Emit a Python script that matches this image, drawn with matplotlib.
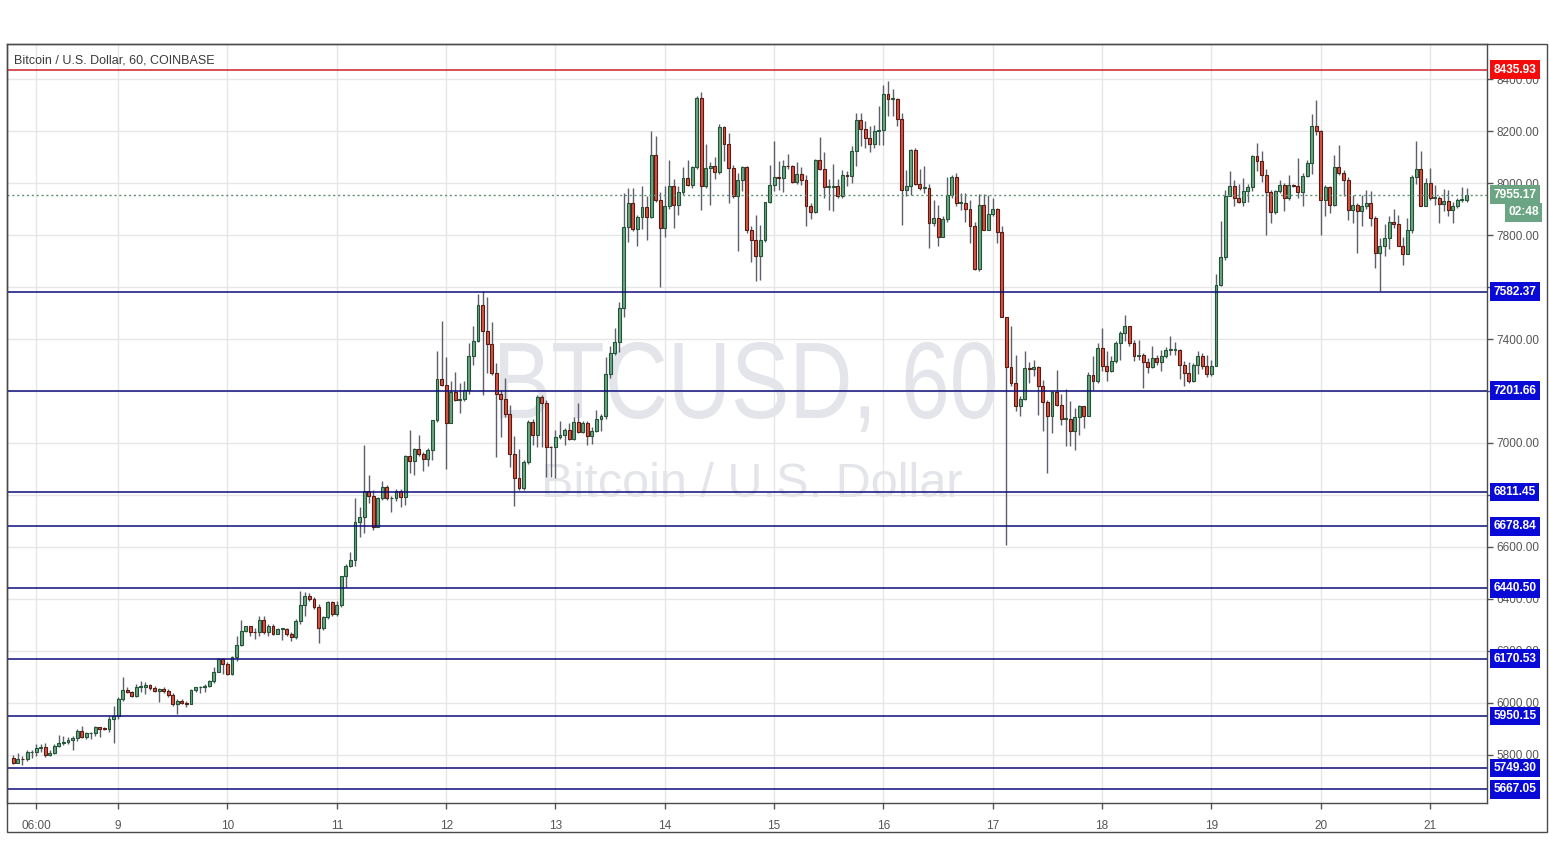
import numpy as np
import matplotlib
matplotlib.use("Agg")
import matplotlib.pyplot as plt
from matplotlib.patches import Rectangle, PathPatch
from matplotlib.textpath import TextPath
from matplotlib.font_manager import FontProperties
from matplotlib.transforms import Affine2D

# hourly candles, 8th 01:00 .. 21st 08:00 (BTC/USD, Coinbase)
first_open = 5788
close = [
    5768, 5785, 5783, 5810, 5810, 5827, 5829, 5800, 5809, 5836,
    5847, 5849, 5859, 5864, 5892, 5868, 5883, 5886, 5906, 5901,
    5899, 5937, 5949, 6015, 6051, 6041, 6028, 6063, 6063, 6069,
    6058, 6045, 6054, 6044, 6032, 5996, 6009, 5999, 5995, 6051,
    6060, 6060, 6067, 6083, 6120, 6168, 6150, 6112, 6176, 6224,
    6278, 6295, 6274, 6271, 6319, 6271, 6297, 6267, 6284, 6284,
    6265, 6254, 6314, 6378, 6413, 6400, 6370, 6290, 6329, 6387,
    6342, 6378, 6487, 6525, 6551, 6697, 6714, 6816, 6796, 6678,
    6787, 6830, 6787, 6787, 6816, 6791, 6951, 6929, 6978, 6959,
    6938, 6974, 7088, 7245, 7223, 7075, 7196, 7165, 7168, 7203,
    7333, 7393, 7529, 7432, 7381, 7268, 7188, 7171, 7111, 6956,
    6867, 6828, 6925, 7082, 7030, 7178, 7155, 6985, 6983, 7024,
    7030, 7049, 7017, 7082, 7043, 7078, 7026, 7047, 7094, 7103,
    7265, 7347, 7387, 7518, 7830, 7923, 7823, 7868, 7906, 7869,
    8109, 7936, 7827, 7910, 7987, 7917, 7964, 8019, 7994, 8062,
    8328, 7987, 8058, 8067, 8041, 8216, 8152, 8058, 7949, 8013,
    8062, 7818, 7782, 7720, 7782, 7927, 7994, 8022, 8019, 8067,
    8064, 8003, 8035, 8013, 7913, 7887, 8087, 8054, 7985, 7985,
    7987, 7949, 8032, 8028, 8122, 8244, 8208, 8173, 8152, 8199,
    8206, 8344, 8324, 8324, 8247, 7972, 7990, 8128, 7997, 7981,
    7981, 7848, 7865, 7794, 7861, 7955, 8023, 7923, 7923, 7900,
    7836, 7669, 7917, 7820, 7881, 7900, 7810, 7484, 7294, 7231,
    7141, 7169, 7288, 7286, 7292, 7221, 7156, 7103, 7195, 7147,
    7092, 7092, 7045, 7100, 7141, 7105, 7263, 7237, 7365, 7297,
    7276, 7314, 7385, 7423, 7449, 7385, 7336, 7340, 7310, 7292,
    7327, 7310, 7336, 7359, 7359, 7359, 7301, 7269, 7237, 7301,
    7336, 7295, 7265, 7297, 7609, 7715, 7951, 7990, 7942, 7929,
    7971, 7983, 8103, 8083, 8032, 7964, 7887, 7971, 7994, 7942,
    7994, 7990, 7964, 8028, 8079, 8220, 8199, 7936, 7985, 7917,
    8062, 8038, 8013, 7895, 7917, 7891, 7910, 7923, 7865, 7731,
    7759, 7788, 7849, 7842, 7759, 7727, 7821, 8023, 8054, 7913,
    8000, 7942, 7942, 7920, 7932, 7895, 7913, 7936, 7936, 7955,
]
high = [
    5801, 5806, 5794, 5817, 5817, 5842, 5842, 5845, 5817, 5842,
    5876, 5871, 5868, 5872, 5899, 5912, 5887, 5888, 5913, 5906,
    5906, 5949, 5990, 6022, 6099, 6060, 6047, 6073, 6086, 6079,
    6073, 6067, 6058, 6060, 6054, 6037, 6015, 6015, 6009, 6054,
    6063, 6065, 6073, 6088, 6137, 6173, 6173, 6156, 6182, 6259,
    6319, 6297, 6297, 6290, 6336, 6336, 6303, 6303, 6290, 6290,
    6290, 6271, 6323, 6430, 6426, 6422, 6407, 6381, 6336, 6391,
    6391, 6391, 6490, 6536, 6581, 6787, 6755, 6994, 6877, 6819,
    6794, 6852, 6839, 6796, 6822, 6822, 6955, 7049, 6981, 7032,
    6964, 6981, 7090, 7355, 7471, 7329, 7239, 7273, 7230, 7239,
    7384, 7452, 7574, 7583, 7563, 7467, 7306, 7204, 7249, 7146,
    7026, 6975, 6934, 7088, 7091, 7184, 7184, 7165, 6988, 7049,
    7085, 7056, 7075, 7101, 7152, 7085, 7085, 7060, 7126, 7111,
    7329, 7373, 7441, 7544, 7961, 7981, 7981, 7878, 7987, 7949,
    8199, 8180, 7964, 7987, 8087, 8015, 7987, 8062, 8090, 8067,
    8334, 8349, 8152, 8080, 8100, 8229, 8218, 8193, 8071, 8039,
    8067, 8067, 7833, 7878, 7839, 7929, 8071, 8161, 8083, 8090,
    8113, 8071, 8080, 8062, 8032, 7923, 8092, 8177, 8118, 8015,
    8075, 8015, 8049, 8045, 8144, 8270, 8270, 8238, 8218, 8225,
    8295, 8379, 8392, 8360, 8328, 8270, 8051, 8131, 8135, 8054,
    8067, 7997, 7933, 7917, 7874, 8023, 8032, 8039, 7961, 7961,
    7936, 7852, 7959, 7959, 7955, 7942, 7904, 7836, 7486, 7449,
    7340, 7180, 7353, 7310, 7321, 7295, 7244, 7167, 7199, 7282,
    7190, 7208, 7160, 7135, 7147, 7138, 7272, 7333, 7385, 7442,
    7353, 7333, 7391, 7429, 7494, 7451, 7397, 7395, 7346, 7327,
    7372, 7340, 7359, 7369, 7413, 7387, 7362, 7314, 7310, 7308,
    7353, 7346, 7340, 7321, 7651, 7853, 7974, 8045, 8013, 7997,
    8019, 7997, 8109, 8156, 8122, 8054, 7974, 7974, 8010, 8000,
    8032, 7997, 8096, 8038, 8090, 8267, 8318, 8205, 7994, 7990,
    8109, 8147, 8051, 8023, 7955, 7923, 7955, 7972, 7968, 7874,
    7788, 7844, 7874, 7900, 7878, 7792, 7865, 8032, 8160, 8122,
    8019, 8058, 7994, 7949, 7977, 7974, 7929, 7942, 7985, 7981,
]
low = [
    5765, 5776, 5762, 5778, 5788, 5796, 5810, 5791, 5797, 5804,
    5829, 5840, 5842, 5820, 5855, 5865, 5862, 5862, 5874, 5868,
    5894, 5887, 5845, 5938, 6009, 6037, 6024, 6024, 6041, 6035,
    6050, 6041, 6003, 6037, 6024, 5990, 5958, 5994, 5983, 5994,
    6041, 6037, 6041, 6060, 6078, 6118, 6112, 6109, 6109, 6163,
    6220, 6272, 6259, 6245, 6258, 6265, 6258, 6262, 6267, 6241,
    6258, 6239, 6245, 6303, 6336, 6394, 6361, 6232, 6280, 6323,
    6336, 6336, 6368, 6445, 6523, 6525, 6639, 6652, 6770, 6667,
    6675, 6781, 6781, 6736, 6778, 6755, 6761, 6884, 6877, 6951,
    6894, 6910, 6935, 7080, 7219, 6899, 7075, 7161, 7116, 7161,
    7187, 7299, 7387, 7184, 7268, 7261, 6947, 7024, 7101, 6908,
    6757, 6821, 6821, 6921, 6992, 6983, 6985, 6870, 6870, 6867,
    7017, 6992, 7011, 7011, 7037, 7037, 6992, 6998, 7043, 7047,
    7094, 7249, 7338, 7351, 7486, 7775, 7814, 7758, 7823, 7782,
    7865, 7929, 7602, 7794, 7900, 7827, 7878, 7955, 7987, 7981,
    8054, 7897, 7981, 7917, 8015, 8036, 8083, 7923, 7942, 7737,
    7968, 7807, 7698, 7624, 7627, 7775, 7923, 7968, 7974, 7964,
    8054, 8000, 7997, 7994, 7836, 7861, 7884, 8051, 7942, 7895,
    7891, 7942, 7942, 7990, 8000, 8067, 8141, 8135, 8118, 8135,
    8148, 8148, 8257, 8257, 8218, 7839, 7949, 7955, 7994, 7974,
    7961, 7752, 7833, 7756, 7792, 7852, 7942, 7910, 7897, 7852,
    7769, 7666, 7663, 7818, 7818, 7874, 7769, 7484, 6608, 7218,
    7122, 7103, 7167, 7231, 7256, 7109, 7045, 6885, 7039, 7141,
    7071, 6987, 6987, 6974, 7032, 7058, 7103, 7203, 7231, 7276,
    7237, 7272, 7308, 7321, 7391, 7372, 7314, 7321, 7212, 7269,
    7288, 7301, 7276, 7327, 7340, 7340, 7246, 7221, 7231, 7233,
    7267, 7285, 7254, 7259, 7295, 7603, 7703, 7949, 7913, 7923,
    7910, 7929, 7968, 8045, 8003, 7801, 7846, 7882, 7962, 7891,
    7936, 7985, 7942, 7910, 8023, 8036, 8186, 7801, 7872, 7885,
    7910, 8032, 7949, 7859, 7846, 7731, 7836, 7900, 7836, 7673,
    7583, 7718, 7746, 7827, 7756, 7686, 7728, 7808, 7997, 7910,
    7910, 7936, 7917, 7846, 7891, 7874, 7846, 7904, 7926, 7929,
]

# horizontal levels drawn on the chart
top_level = 8435.93
levels = [7582.37, 7201.66, 6811.45, 6678.84, 6440.50, 6170.53, 5950.15, 5749.30, 5667.05]
last_price = 7955.17
countdown = "02:48"

# time axis: hours since the 8th 00:00
day_ticks = [6, 24, 48, 72, 96, 120, 144, 168, 192, 216, 240, 264, 288, 312]
day_labels = ["06:00", "9", "10", "11", "12", "13", "14", "15", "16", "17", "18", "19", "20", "21"]
price_ticks = [5800, 6000, 6200, 6400, 6600, 6800, 7000, 7200, 7400, 7600, 7800, 8000, 8200, 8400]
hidden_ticks = [6800, 7200, 7600]  # covered by the level tags in the reference

W, H = 1549, 868
fig = plt.figure(figsize=(W / 100, H / 100), dpi=100)
fig.patch.set_facecolor("white")
ax = fig.add_axes([7 / W, (H - 803) / H, 1480 / W, 759 / H])
ax.set_xlim(-0.4, 324.5)
ax.set_ylim(5615, 8535)
px = Affine2D().scale(1 / W, 1 / H) + fig.transFigure  # pixel coords, origin bottom-left

c = np.array(close, float)
o = np.r_[first_open, c[:-1]]
hi = np.maximum(np.array(high, float), np.maximum(o, c))
lo = np.minimum(np.array(low, float), np.minimum(o, c))
x = np.arange(1, len(c) + 1)
up = c >= o

# grid
for t in day_ticks:
    ax.axvline(t, color="#e6e6e6", lw=1, zorder=0)
for p in price_ticks:
    ax.axhline(p, color="#e6e6e6", lw=1, zorder=0)

# watermark (narrow big symbol text, squeezed to the reference box)
wm = TextPath((0, 0), "BTCUSD, 60", size=100, prop=FontProperties(family="Liberation Sans"))
bb = wm.get_extents()
sx = 495 / bb.width
sy = 78 / 71.6
ax.add_patch(PathPatch(wm, fc="#e4e5ea", ec="none", zorder=1,
                       transform=Affine2D().translate(-bb.x0, 0).scale(sx, sy).translate(500, H - 418) + px))
ax.text(163, 6792, "Bitcoin / U.S. Dollar", ha="center", va="baseline", fontsize=35,
        color="#e4e5ea", family=["Liberation Sans", "DejaVu Sans"], zorder=1)

# candles
ax.vlines(x, lo, hi, color="#5d606b", lw=1, zorder=3)
body_bot = np.minimum(o, c)
body_h = np.maximum(np.abs(c - o), 3)
ax.bar(x[up], body_h[up], bottom=body_bot[up], width=0.64, color="#6ba583",
       edgecolor="#225437", linewidth=0.8, zorder=4)
ax.bar(x[~up], body_h[~up], bottom=body_bot[~up], width=0.64, color="#d75442",
       edgecolor="#5b1a13", linewidth=0.8, zorder=4)

# level lines + price tags
ytr = ax.get_yaxis_transform()
tag = dict(transform=ytr, ha="left", va="center", fontsize=8.6, fontweight="bold",
           color="white", family="Liberation Sans", clip_on=False, zorder=10)
ax.axhline(top_level, color="#d0202a", lw=1.1, zorder=5)
ax.text(1.0045, top_level, f"{top_level:.2f}",
        bbox=dict(boxstyle="square,pad=0.28", fc="#f20c0c", ec="none"), **tag)
for lv in levels:
    ax.axhline(lv, color="#0d0d7a", lw=1.1, zorder=5)
    ax.text(1.0045, lv, f"{lv:.2f}",
            bbox=dict(boxstyle="square,pad=0.28", fc="#0a0ad8", ec="none"), **tag)

ax.axhline(last_price, color="#5f8f72", lw=1, ls=(0, (1.5, 2)), zorder=5)
ax.text(1.0045, last_price, f"{last_price:.2f}",
        bbox=dict(boxstyle="square,pad=0.28", fc="#6ba583", ec="none"), **tag)
ax.text(1.0145, last_price - 68, countdown,
        bbox=dict(boxstyle="square,pad=0.28", fc="#6ba583", ec="none"), **tag)

# axes
ax.yaxis.tick_right()
ax.set_yticks(price_ticks)
ax.set_yticklabels(["" if p in hidden_ticks else f"{p:.2f}" for p in price_ticks],
                   family="Liberation Sans")
ax.set_xticks(day_ticks)
ax.set_xticklabels(day_labels, family="Liberation Sans")
ax.tick_params(axis="y", length=4, width=1, color="#555555", labelcolor="#555555",
               labelsize=8.5, pad=3)
ax.tick_params(axis="x", length=4, width=1, color="#555555", labelcolor="#555555",
               labelsize=8.5, pad=8)
for s in ax.spines.values():
    s.set_color("#4a4a4a")
    s.set_linewidth(1)

ax.text(0.005, 0.9785, "Bitcoin / U.S. Dollar, 60, COINBASE", transform=ax.transAxes,
        ha="left", va="center", fontsize=9, color="#3a3a3a", family="Liberation Sans", zorder=11)

# outer frame around price and time scales
fig.patches.append(Rectangle((7 / W, (H - 832) / H), 1540 / W, 788 / H, fill=False,
                             ec="#4a4a4a", lw=1, transform=fig.transFigure, figure=fig))

fig.savefig("out.png", dpi=100)
